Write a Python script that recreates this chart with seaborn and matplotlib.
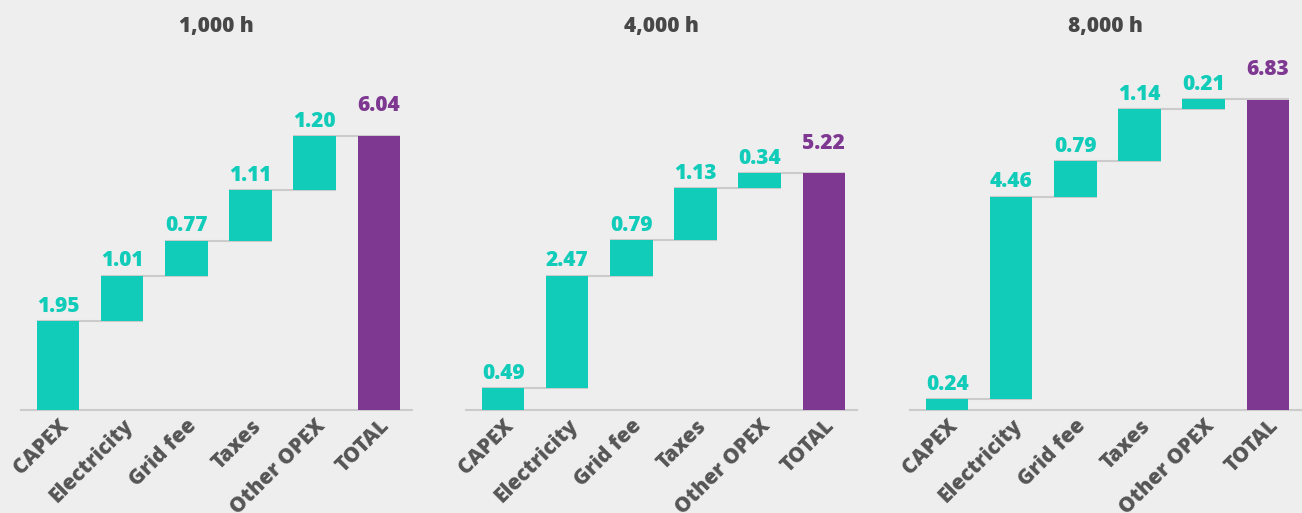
import matplotlib
matplotlib.use("Agg")
import matplotlib.pyplot as plt
import seaborn as sns
import pandas as pd
import numpy as np

categories = ["CAPEX", "Electricity", "Grid fee", "Taxes", "Other OPEX", "TOTAL"]
titles = ["1,000 h", "4,000 h", "8,000 h"]
vals_1000 = [1.95, 1.01, 0.77, 1.11, 1.20]
vals_4000 = [0.49, 2.47, 0.79, 1.13, 0.34]
vals_8000 = [0.24, 4.46, 0.79, 1.14, 0.21]
totals = [6.04, 5.22, 6.83]
series = [vals_1000, vals_4000, vals_8000]

TEAL = "#12CCBA"
PURPLE = "#7E3891"
BG = "#EEEEEE"
GRID = "#CBCBCB"

sns.set_theme(style="white")
plt.rcParams["font.family"] = ["Open Sans", "DejaVu Sans"]

fig = plt.figure(figsize=(13.02, 5.13), dpi=100, facecolor=BG)
W, H = 1302, 513
lefts_px = [21, 466, 910]
ax_w_px = 391
bottom_px = 410
top_px = 60
ymax = (bottom_px - top_px) / 45.4

for i, (vals, tot, title) in enumerate(zip(series, totals, titles)):
    ax = fig.add_axes([lefts_px[i] / W, (H - bottom_px) / H, ax_w_px / W, (bottom_px - top_px) / H])
    ax.set_facecolor(BG)
    cum = np.concatenate([[0], np.cumsum(vals)[:-1]])
    df = pd.DataFrame({"cat": categories[:5], "val": vals, "base": cum})
    sns.barplot(data=df, x="cat", y="val", order=categories, color=TEAL,
                bottom=df["base"].values, width=0.66, saturation=1, ax=ax, zorder=3,
                edgecolor="none", linewidth=0)
    dft = pd.DataFrame({"cat": ["TOTAL"], "val": [tot]})
    sns.barplot(data=dft, x="cat", y="val", order=categories, color=PURPLE,
                width=0.66, saturation=1, ax=ax, zorder=3, edgecolor="none", linewidth=0)
    tops = list(np.cumsum(vals))
    for j in range(5):
        x0 = j - 0.33
        x1 = j + 1 + 0.33
        ax.plot([x0, x1], [tops[j], tops[j]], color=GRID, lw=1.5, zorder=2, solid_capstyle="butt")
    for j, v in enumerate(vals):
        ax.annotate(f"{v:.2f}", (j, tops[j]), xytext=(0, 3), textcoords="offset points",
                    ha="center", va="bottom", fontsize=15, fontweight="heavy", color=TEAL)
    ax.annotate(f"{tot:.2f}", (5, tot), xytext=(0, 14), textcoords="offset points",
                ha="center", va="bottom", fontsize=15, fontweight="heavy", color=PURPLE)
    ax.set_xlim(-0.58, 5.52)
    ax.set_ylim(0, ymax)
    ax.set_xlabel("")
    ax.set_ylabel("")
    ax.set_yticks([])
    ax.tick_params(axis="x", length=0, pad=4)
    ax.set_xticks(range(6))
    ax.set_xticklabels(categories, rotation=45, ha="right", rotation_mode="anchor",
                       fontsize=15, fontweight="heavy", color="#555555")
    for s in ["top", "right", "left"]:
        ax.spines[s].set_visible(False)
    ax.spines["bottom"].set_color(GRID)
    ax.spines["bottom"].set_linewidth(1.5)
    fig.text((lefts_px[i] + 195) / W, 1 - 27 / H, title, ha="center", va="center",
             fontsize=15, fontweight="heavy", color="#474747")

fig.savefig("out.png", dpi=100, facecolor=BG)
